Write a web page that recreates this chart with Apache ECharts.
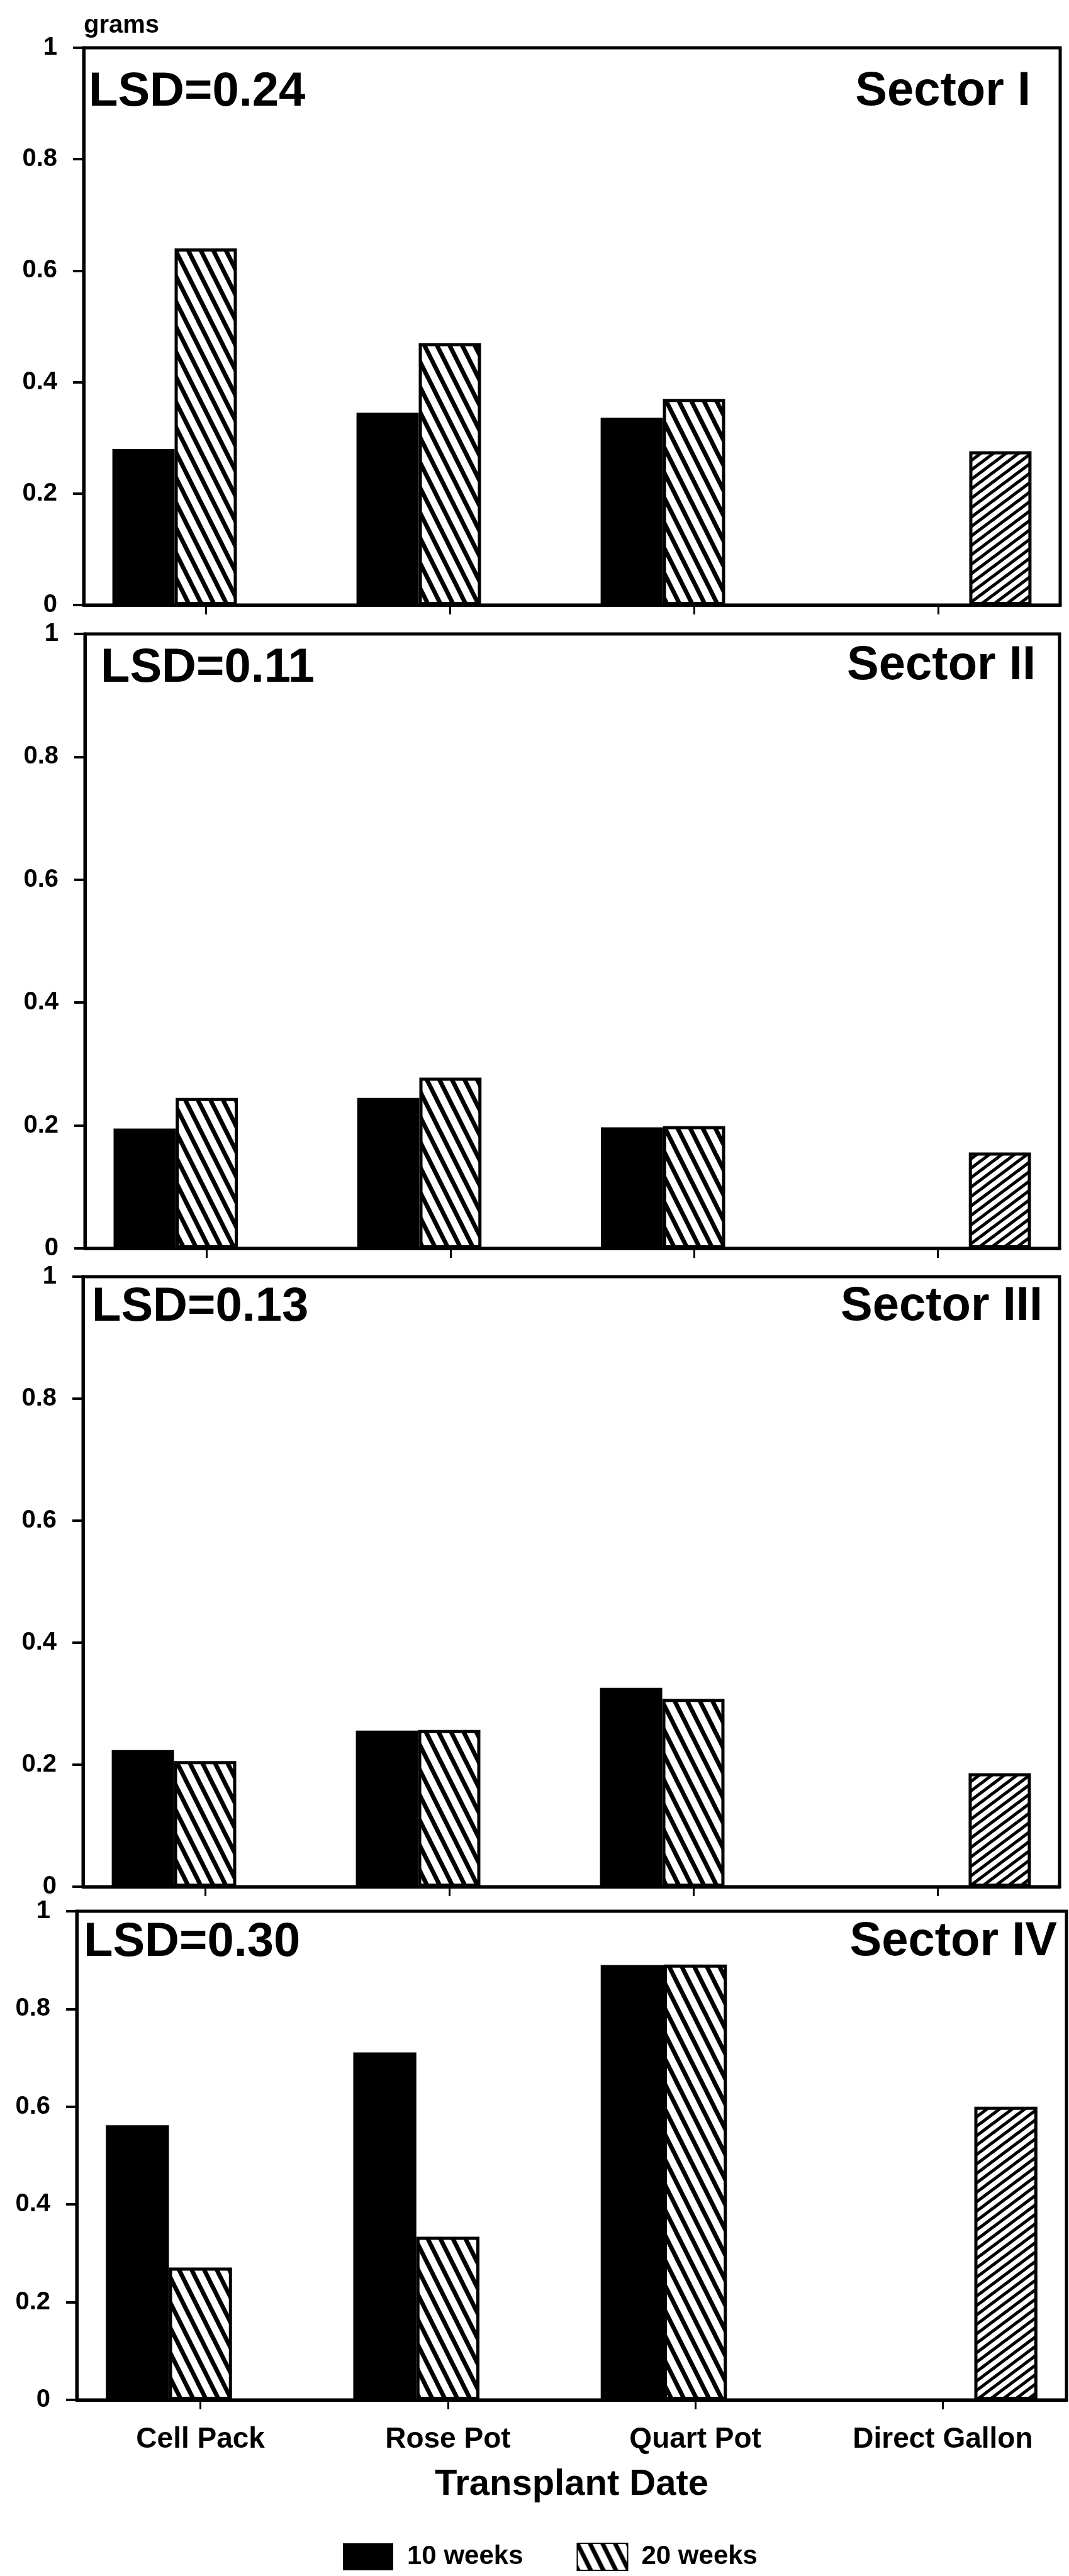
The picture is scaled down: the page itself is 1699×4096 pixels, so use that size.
<!DOCTYPE html>
<html>
<head>
<meta charset="utf-8">
<script src="https://cdn.jsdelivr.net/npm/echarts@6/dist/echarts.min.js"></script>
<style>
html,body{margin:0;padding:0;background:#fff;}
#chart{width:1699px;height:4096px;}
</style>
</head>
<body>
<div id="chart"></div>
<script>
// ---------------- data ----------------
const categories = ['Cell Pack', 'Rose Pot', 'Quart Pot', 'Direct Gallon'];
const seriesNames = ['10 weeks', '20 weeks', 'Direct Gallon'];
const sectorNames = ['Sector I', 'Sector II', 'Sector III', 'Sector IV'];
const lsdLabels = ['LSD=0.24', 'LSD=0.11', 'LSD=0.13', 'LSD=0.30'];
const yUnit = 'grams';
const xTitle = 'Transplant Date';

const sectorI_10wk   = [0.28, 0.345, 0.336, null];
const sectorI_20wk   = [0.64, 0.47, 0.37, null];
const sectorI_direct = [null, null, null, 0.276];

const sectorII_10wk   = [0.195, 0.245, 0.197, null];
const sectorII_20wk   = [0.245, 0.278, 0.199, null];
const sectorII_direct = [null, null, null, 0.156];

const sectorIII_10wk   = [0.224, 0.256, 0.326, null];
const sectorIII_20wk   = [0.206, 0.257, 0.308, null];
const sectorIII_direct = [null, null, null, 0.186];

const sectorIV_10wk   = [0.562, 0.711, 0.89, null];
const sectorIV_20wk   = [0.271, 0.334, 0.891, null];
const sectorIV_direct = [null, null, null, 0.60];

const panelData = [
  [sectorI_10wk, sectorI_20wk, sectorI_direct],
  [sectorII_10wk, sectorII_20wk, sectorII_direct],
  [sectorIII_10wk, sectorIII_20wk, sectorIII_direct],
  [sectorIV_10wk, sectorIV_20wk, sectorIV_direct]
];

// ---------------- layout / style ----------------
const FONT = '"Liberation Sans", Arial, Helvetica, sans-serif';
const grids = [
  {left: 133, top: 76,   width: 1552, height: 886},
  {left: 135, top: 1008, width: 1549, height: 977},
  {left: 132, top: 2030, width: 1552, height: 970},
  {left: 122, top: 3039, width: 1573, height: 777}
];
const lsdPos = [[141, 147], [160, 1063], [146, 2079], [133, 3089]];
const sectorPos = [[1638, 146], [1646, 1059], [1657, 2078], [1680, 3088]];

function backHatch() {
  const c = document.createElement('canvas');
  c.width = 20; c.height = 40;
  const g = c.getContext('2d');
  g.fillStyle = '#fff'; g.fillRect(0, 0, 20, 40);
  g.strokeStyle = '#000'; g.lineWidth = 7;
  for (let k = -3; k <= 3; k++) {
    g.beginPath();
    g.moveTo(k * 20 - 20, -40);
    g.lineTo(k * 20 + 40, 80);
    g.stroke();
  }
  return c;
}
function fwdHatch() {
  const c = document.createElement('canvas');
  c.width = 20; c.height = 15;
  const g = c.getContext('2d');
  g.fillStyle = '#fff'; g.fillRect(0, 0, 20, 15);
  g.strokeStyle = '#000'; g.lineWidth = 5;
  for (let k = -3; k <= 3; k++) {
    g.beginPath();
    g.moveTo(k * 20 - 20, 30);
    g.lineTo(k * 20 + 40, -15);
    g.stroke();
  }
  return c;
}
const backPattern = {image: backHatch(), repeat: 'repeat'};
const fwdPattern = {image: fwdHatch(), repeat: 'repeat'};

const seriesStyles = [
  {color: '#000', borderColor: '#000', borderWidth: 0},
  {color: backPattern, borderColor: '#000', borderWidth: 5},
  {color: fwdPattern, borderColor: '#000', borderWidth: 5}
];

const chart = echarts.init(document.getElementById('chart'), null, {renderer: 'canvas'});

const xAxes = [], yAxes = [], series = [], graphics = [];
grids.forEach((gr, i) => {
  xAxes.push({
    type: 'category', gridIndex: i, data: categories,
    axisLine: {show: true, lineStyle: {color: '#000', width: 5}},
    axisTick: {show: true, alignWithLabel: true, length: 15, lineStyle: {color: '#000', width: 3}},
    axisLabel: {show: i === 3, margin: 40, fontSize: 46, fontWeight: 'bold', color: '#000', fontFamily: FONT},
    splitLine: {show: false},
    name: i === 3 ? xTitle : '',
    nameLocation: 'middle', nameGap: 106,
    nameTextStyle: {fontSize: 58, fontWeight: 'bold', color: '#000', fontFamily: FONT, verticalAlign: 'top'}
  });
  yAxes.push({
    type: 'value', gridIndex: i, min: 0, max: 1, interval: 0.2,
    axisLine: {show: true, lineStyle: {color: '#000', width: 5}},
    axisTick: {show: true, length: 17, lineStyle: {color: '#000', width: 4}},
    axisLabel: {margin: 42, fontSize: 40, fontWeight: 'bold', color: '#000', fontFamily: FONT},
    splitLine: {show: false}
  });
  panelData[i].forEach((vals, s) => {
    series.push({
      type: 'bar', name: seriesNames[s], xAxisIndex: i, yAxisIndex: i,
      data: vals, barGap: '0%', barCategoryGap: '23.5%',
      itemStyle: seriesStyles[s], silent: true
    });
  });
  graphics.push({
    type: 'text', x: lsdPos[i][0], y: lsdPos[i][1],
    style: {text: lsdLabels[i], fontSize: 76, fontWeight: 'bold', fontFamily: FONT, fill: '#000',
            textAlign: 'left', textVerticalAlign: 'middle'}
  });
  graphics.push({
    type: 'text', x: sectorPos[i][0], y: sectorPos[i][1],
    style: {text: sectorNames[i], fontSize: 76, fontWeight: 'bold', fontFamily: FONT, fill: '#000',
            textAlign: 'right', textVerticalAlign: 'middle'}
  });
});
graphics.push({
  type: 'text', x: 133, y: 41,
  style: {text: yUnit, fontSize: 40, fontWeight: 'bold', fontFamily: FONT, fill: '#000',
          textAlign: 'left', textVerticalAlign: 'middle'}
});

chart.setOption({
  animation: false,
  backgroundColor: '#fff',
  grid: grids.map(g => Object.assign({show: true, borderColor: '#000', borderWidth: 5, backgroundColor: 'transparent'}, g)),
  xAxis: xAxes,
  yAxis: yAxes,
  series: series,
  legend: {
    data: ['10 weeks', '20 weeks'],
    left: 540, top: 4038, icon: 'rect',
    itemWidth: 80, itemHeight: 43, itemGap: 85,
    selectedMode: false,
    textStyle: {fontSize: 42, fontWeight: 'bold', color: '#000', fontFamily: FONT, padding: [0, 0, 0, 17]}
  },
  graphic: graphics
});
</script>
</body>
</html>
